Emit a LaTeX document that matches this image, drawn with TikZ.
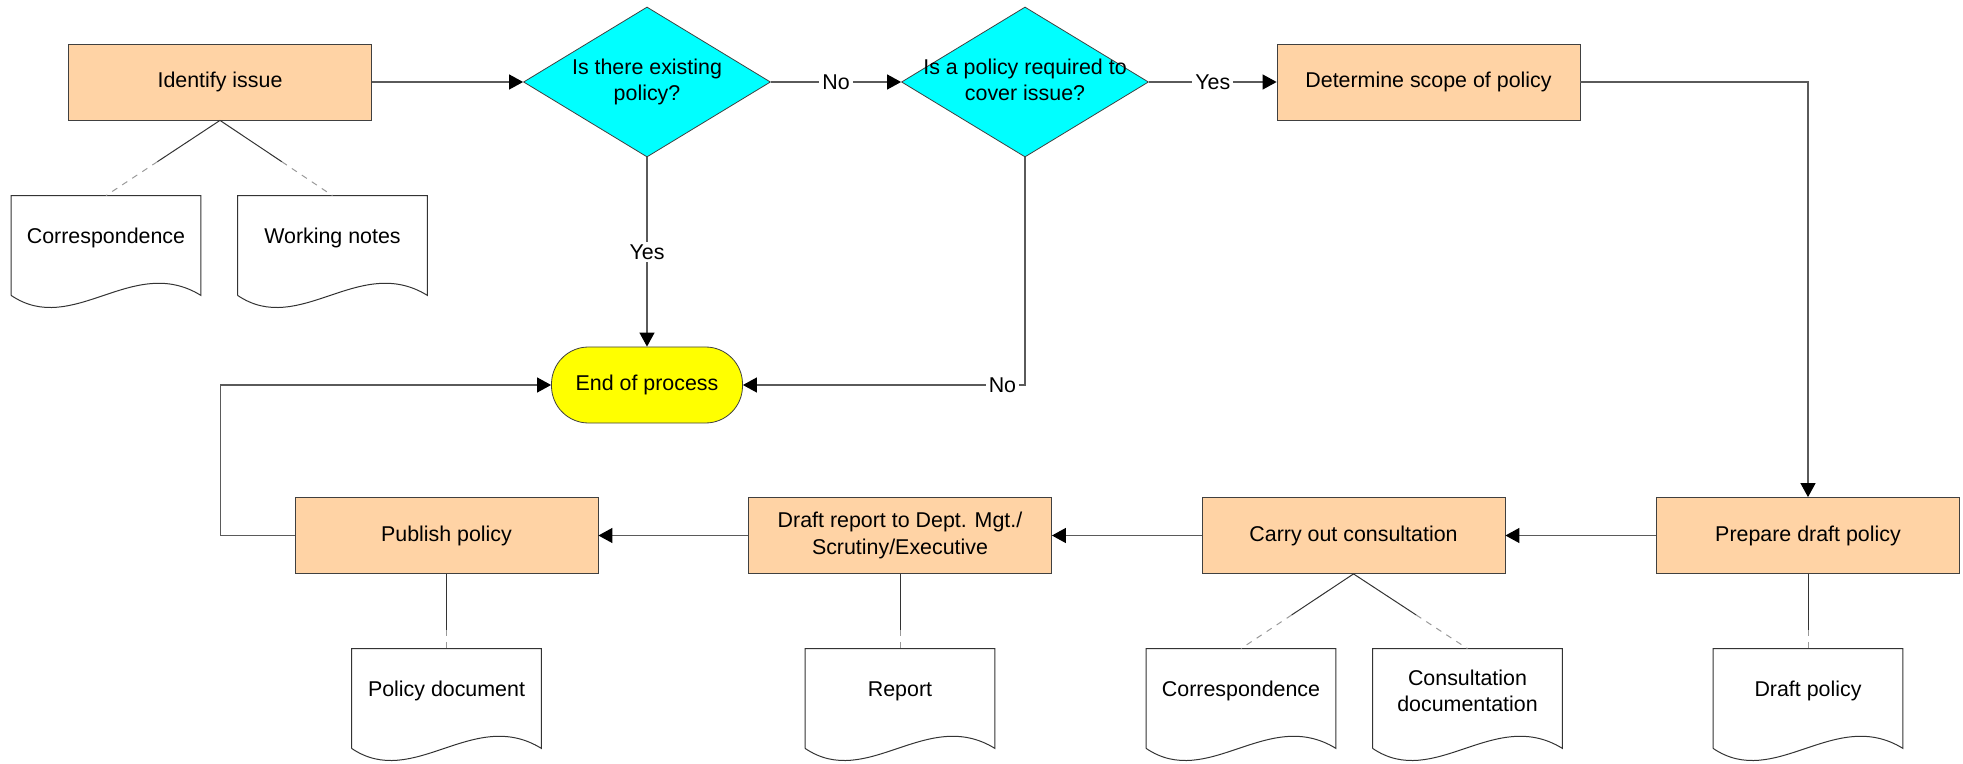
\documentclass[tikz,border=0pt]{standalone}
\usepackage{fontspec}
\setmainfont{Liberation Sans}
\usetikzlibrary{arrows.meta,shapes.geometric,calc}
\definecolor{peach}{HTML}{FFD3A5}
\definecolor{aqua}{HTML}{00FFFF}
\definecolor{lemon}{HTML}{FFFF00}
\definecolor{wire}{HTML}{5A5A5A}

\begin{document}
\begin{tikzpicture}[x=0.5pt,y=-0.5pt,font=\fontsize{10.7}{13.2}\selectfont,
  >={Triangle[length=7pt,width=7.5pt,color=black]},
  task/.style={draw=black!75,fill=peach,minimum width=151.5pt,minimum height=38pt,align=center,inner sep=2pt},
  query/.style={diamond,draw=black!75,fill=aqua,minimum width=123.5pt,minimum height=75pt,inner sep=0pt},
  stop/.style={draw=black!75,fill=lemon,rounded corners=18.5pt,minimum width=95.5pt,minimum height=38pt},
  doc/.style={minimum width=94.5pt,minimum height=42pt,align=center,inner sep=0pt},
  flow/.style={->,draw=wire,line width=0.6pt},
  lbl/.style={fill=white,inner sep=1.5pt},
  assoc/.style={draw=black!80,line width=0.5pt}]
  \useasboundingbox (0,0) rectangle (1963,764);
  % top row
  \node[task] (ident) at (220,82) {Identify issue};
  \node[query] (exist) at (647,82) {\makebox[0pt]{\begin{tabular}{@{}c@{}}Is there existing\\policy?\end{tabular}}};
  \node[query] (req) at (1025,82) {\makebox[0pt]{\begin{tabular}{@{}c@{}}Is a policy required to\\cover issue?\end{tabular}}};
  \node[task] (scope) at (1428.5,82) {Determine scope of policy};
  \node[stop] (endp) at (647,385) {End of process};
  % bottom row
  \node[task] (prep) at (1808,535.5) {Prepare draft policy};
  \node[task] (consult) at (1353.5,535.5) {Carry out consultation};
  \node[task] (report) at (900,535.5) {Draft report to Dept. Mgt./\\Scrutiny/Executive};
  \node[task] (publish) at (446.5,535.5) {Publish policy};
  % documents
  \node[doc] (corrA) at (106,238) {Correspondence};
  \node[doc] (notes) at (332.5,238) {Working notes};
  \node[doc] (poldoc) at (446.5,691) {Policy document};
  \node[doc] (repdoc) at (900,691) {Report};
  \node[doc] (corrB) at (1241,691) {Correspondence};
  \node[doc] (consdoc) at (1467.5,691) {Consultation\\documentation};
  \node[doc] (draftdoc) at (1808,691) {Draft policy};
  \foreach \d in {corrA,notes,poldoc,repdoc,corrB,consdoc,draftdoc}
    \draw[black!80,line width=0.5pt] ([yshift=-7.5pt]\d.south west) -- (\d.north west) -- (\d.north east)
      -- ([yshift=-7.5pt]\d.south east) .. controls +(-34pt,21pt) and +(31pt,-21pt) .. ([yshift=-7.5pt]\d.south west);
  % flow
  \draw[flow] (ident) -- (exist);
  \draw[flow] (exist) -- node[lbl] {No} (req);
  \draw[flow] (req) -- node[lbl] {Yes} (scope);
  \draw[flow] (scope) -| (prep);
  \draw[flow] (prep) -- (consult);
  \draw[flow] (consult) -- (report);
  \draw[flow] (report) -- (publish);
  \draw[flow] (publish.west) -- ++(-74,0) |- (endp.west);
  \draw[flow] (exist) -- node[lbl] {Yes} (endp);
  \draw[flow] (req) |- node[lbl,pos=.54] {No} (endp);
  % document links
  \foreach \a/\b/\f in {ident/corrA/.55,ident/notes/.55,consult/corrB/.55,consult/consdoc/.55,prep/draftdoc/.75,report/repdoc/.75,publish/poldoc/.75}{
    \draw[assoc] (\a.south) -- ($(\a.south)!\f!(\b.north)$);
    \draw[assoc,dashed,black!40] ($(\a.south)!\f!(\b.north)$) -- (\b.north);
  }
\end{tikzpicture}
\end{document}
